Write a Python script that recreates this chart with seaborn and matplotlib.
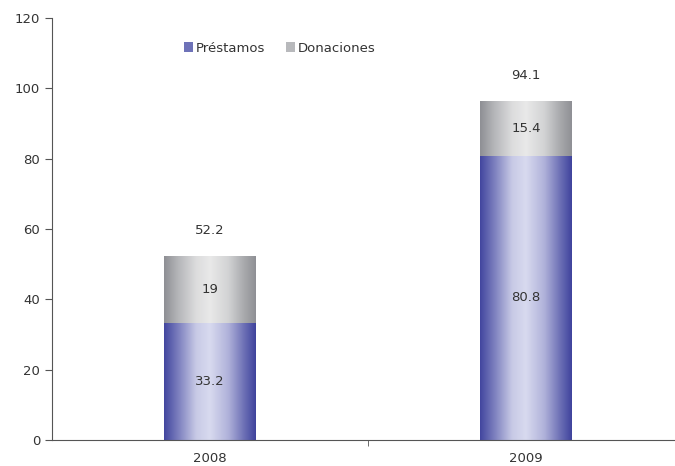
import numpy as np
import pandas as pd
import matplotlib
matplotlib.use("Agg")
import matplotlib.pyplot as plt
from matplotlib.colors import LinearSegmentedColormap
from matplotlib.patches import Patch
import seaborn as sns

years = ["2008", "2009"]
prestamos = [33.2, 80.8]
donaciones = [19, 15.4]
total_labels = ["52.2", "94.1"]
don_labels = ["19", "15.4"]
pre_labels = ["33.2", "80.8"]

sns.set_style("ticks")
plt.rcParams['font.family'] = ['DejaVu Sans']

df = pd.DataFrame({
    "year": years,
    "prestamos": prestamos,
    "stack": np.array(prestamos) + np.array(donaciones),
})

fig = plt.figure(figsize=(6.75, 4.66), dpi=100)
ax = fig.add_axes([0.077, 0.056, 0.936, 0.905])

# totals first (grey), then préstamos on top of them
sns.barplot(data=df, x="year", y="stack", color="#bbbbbb", width=0.29, ax=ax)
sns.barplot(data=df, x="year", y="prestamos", color="#5558a8", width=0.29, ax=ax)

blue_cmap = LinearSegmentedColormap.from_list("blue", [
    (0.0, "#42469f"), (0.15, "#7a7dbd"), (0.35, "#c8cae6"), (0.5, "#d8daef"),
    (0.7, "#b0b2da"), (0.87, "#6e71b6"), (1.0, "#3f439d")])
grey_cmap = LinearSegmentedColormap.from_list("grey", [
    (0.0, "#8e8f94"), (0.15, "#b4b5b8"), (0.35, "#dcdcdd"), (0.5, "#e9e9e9"),
    (0.7, "#d2d3d4"), (0.87, "#a9aaad"), (1.0, "#8f9095")])
grad = np.linspace(0, 1, 256).reshape(1, -1)

patches = list(ax.patches)
n = len(years)
for i, p in enumerate(patches):
    x0, y0 = p.get_x(), p.get_y()
    w, h = p.get_width(), p.get_height()
    cmap = grey_cmap if i < n else blue_cmap
    ax.imshow(grad, extent=[x0, x0 + w, y0, y0 + h], cmap=cmap,
              aspect="auto", zorder=2, interpolation="bicubic")
    p.set_visible(False)

ax.set_xlim(-0.5, 1.5)
ax.set_ylim(0, 120)
ax.set_yticks(range(0, 121, 20))

txt = "#333333"
for i in range(n):
    ax.text(i, prestamos[i] / 2, pre_labels[i], ha="center", va="center",
            fontsize=9.5, color=txt, zorder=3)
    ax.text(i, prestamos[i] + donaciones[i] / 2, don_labels[i], ha="center",
            va="center", fontsize=9.5, color=txt, zorder=3)
    ax.annotate(total_labels[i], (i, prestamos[i] + donaciones[i]),
                xytext=(0, 14), textcoords="offset points", ha="center",
                va="bottom", fontsize=9.5, color=txt)

ax.set_xlabel("")
ax.set_ylabel("")
sns.despine(ax=ax, top=True, right=True)
for s in ["left", "bottom"]:
    ax.spines[s].set_color("#555555")
    ax.spines[s].set_linewidth(0.8)

ax.tick_params(axis="x", length=0, labelsize=9.5, labelcolor=txt, pad=9)
ax.set_xticks([0.5, 1.5], minor=True)
ax.tick_params(axis="x", which="minor", length=4, color="#555555", direction="out")
ax.tick_params(axis="y", length=5, color="#555555", labelsize=9.5, labelcolor=txt)

handles = [Patch(facecolor="#6e72b8", edgecolor="none", label="Préstamos"),
           Patch(facecolor="#b8b9bc", edgecolor="none", label="Donaciones")]
leg = ax.legend(handles=handles, loc="center left", bbox_to_anchor=(0.19, 0.929),
                ncol=2, frameon=False, handlelength=0.7, handleheight=0.7,
                handletextpad=0.2, columnspacing=1.6, fontsize=9.5)
for t in leg.get_texts():
    t.set_color(txt)

fig.savefig("out.png", dpi=100)
